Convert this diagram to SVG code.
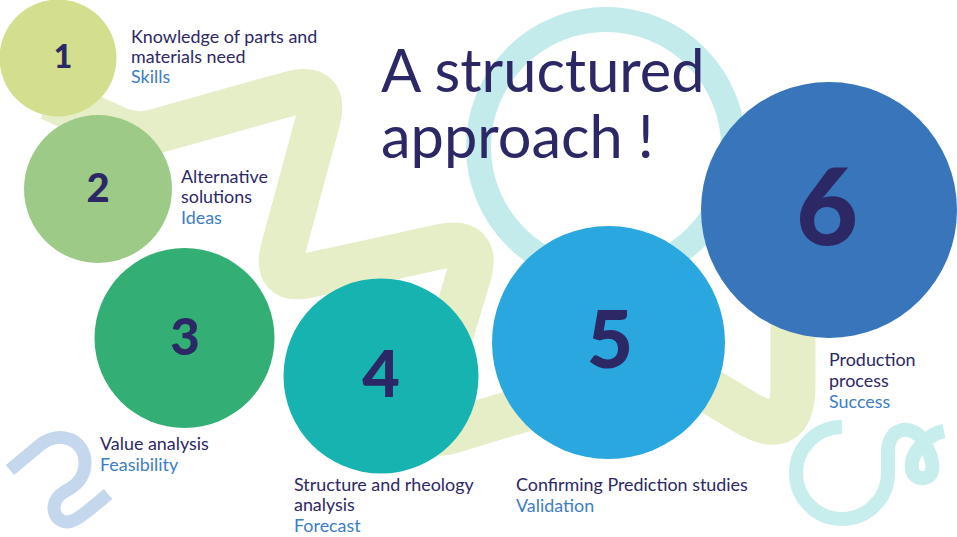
<svg xmlns="http://www.w3.org/2000/svg" width="957" height="537" viewBox="0 0 957 537">
  <style>
    .num { font-family: Lato, "Open Sans", "DejaVu Sans", sans-serif; font-weight: 900; fill: #2c2866; text-anchor: middle; }
    .lbl { font-family: Lato, "Open Sans", "DejaVu Sans", sans-serif; font-size: 17.9px; fill: #2c2866; }
    .sub { fill: #3d7dc4; }
    .title { font-family: Lato, "Open Sans", "DejaVu Sans", sans-serif; font-size: 59.5px; fill: #2c2866; }
    .deco { fill: none; stroke-linecap: butt; stroke-linejoin: round; }
  </style>
  <rect width="957" height="537" fill="#ffffff"/>

  <g id="decorations">
    <circle cx="606" cy="147" r="127.5" fill="none" stroke="#c4ebeb" stroke-width="25"/>
    <path class="deco" stroke="#c4d7ec" stroke-width="13" d="M 10 470 L 40 445 C 60 429 86 440 85 464 C 84 480 75 486 64 492 C 52 499 50 515 62 521 C 70 525 78 520 108 494"/>
    <path class="deco" stroke="#c7eded" stroke-width="14" d="M 842 427 A 46 46 0 1 0 888 473 L 888 452 C 888 425 914 424 924 442 C 932 456 938 476 924 478 C 910 480 908 462 918 449 C 925 440 933 433 944 431"/>
  </g>

  <g id="connectors">
    <path fill="none" stroke="#e6eec8" stroke-width="45" stroke-linejoin="round"
      d="M 50 98 L 116.8 128.7 Q 135 137 154.3 131.6 L 289.5 93.8 Q 328 83 317.6 121.6 L 283.1 249.2 Q 274 283 308.2 275.5 L 440.9 246.5 Q 480 238 468.5 276.3 L 429.1 407.5 Q 419 441 452.5 430.9 L 639.3 374.6 Q 668 366 693.7 381.4 L 745.9 412.7 Q 793 441 793 386 L 793 295"/>
  </g>

  <g id="title">
    <text class="title" x="381" y="92">A structured</text>
    <text class="title" x="381" y="158">approach !</text>
  </g>

  <g id="node1">
    <circle cx="58" cy="58" r="58.5" fill="#d3df8e"/>
    <text class="num" x="63" y="68" font-size="32">1</text>
    <text class="lbl" x="131" y="43">Knowledge of parts and</text>
    <text class="lbl" x="131" y="63">materials need</text>
    <text class="lbl sub" x="131" y="83">Skills</text>
  </g>

  <g id="node2">
    <circle cx="98" cy="189" r="74" fill="#9dcb87"/>
    <text class="num" x="98" y="202" font-size="40">2</text>
    <text class="lbl" x="181" y="183">Alternative</text>
    <text class="lbl" x="181" y="203">solutions</text>
    <text class="lbl sub" x="181" y="224">Ideas</text>
  </g>

  <g id="node3">
    <circle cx="184.5" cy="338" r="90" fill="#33ae74"/>
    <text class="num" x="185" y="355" font-size="51">3</text>
    <text class="lbl" x="100" y="450">Value analysis</text>
    <text class="lbl sub" x="100" y="471">Feasibility</text>
  </g>

  <g id="node4">
    <circle cx="381" cy="376" r="97.5" fill="#17b3b0"/>
    <text class="num" x="381" y="397" font-size="65">4</text>
    <text class="lbl" x="294" y="491">Structure and rheology</text>
    <text class="lbl" x="294" y="511">analysis</text>
    <text class="lbl sub" x="294" y="532">Forecast</text>
  </g>

  <g id="node5">
    <circle cx="608.5" cy="342.5" r="116.5" fill="#2ba7df"/>
    <text class="num" x="610" y="368" font-size="80">5</text>
    <text class="lbl" x="516" y="491">Confirming Prediction studies</text>
    <text class="lbl sub" x="516" y="512">Validation</text>
  </g>

  <g id="node6">
    <circle cx="829" cy="210" r="128" fill="#3875ba"/>
    <text class="num" x="827" y="245" font-size="107">6</text>
    <text class="lbl" x="829" y="366">Production</text>
    <text class="lbl" x="829" y="387">process</text>
    <text class="lbl sub" x="829" y="408">Success</text>
  </g>
</svg>
